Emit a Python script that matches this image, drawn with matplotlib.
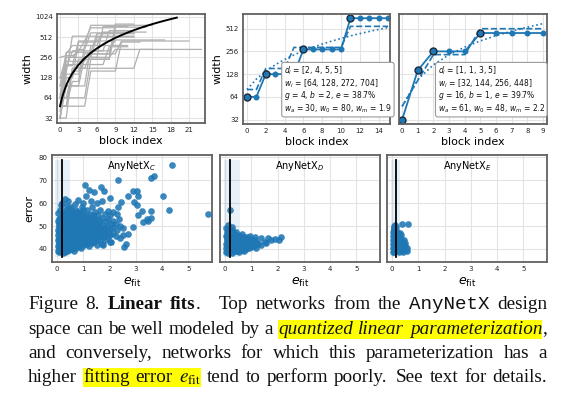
import matplotlib
matplotlib.use('Agg')
import matplotlib.pyplot as plt
import numpy as np
from matplotlib.patches import Rectangle
from matplotlib.ticker import NullLocator

# ---------------- data ----------------
# panel 1: sampled networks (stage depths, stage widths)
net_depths = [[1, 3, 5, 15], [2, 2, 6, 12], [1, 4, 4, 9], [1, 2, 4, 8], [1, 1, 3, 11],
              [2, 5, 6, 3], [1, 2, 5, 4], [1, 3, 3, 5], [2, 2, 3, 6], [1, 1, 4, 7],
              [1, 2, 2, 5], [2, 3, 4, 4], [1, 1, 2, 6], [1, 4, 3, 4], [3, 2, 4, 4],
              [1, 2, 3, 7], [1, 2, 2, 4], [2, 3, 5, 4], [1, 3, 4, 4], [1, 1, 5, 6],
              [2, 3, 4, 6]]
net_widths = [[32, 96, 256, 336], [64, 160, 288, 448], [48, 224, 320, 464], [32, 128, 432, 608],
              [64, 288, 384, 768], [48, 176, 176, 336], [64, 256, 320, 640], [32, 144, 256, 736],
              [48, 112, 384, 592], [128, 256, 256, 512], [96, 192, 448, 704], [64, 64, 240, 640],
              [32, 176, 320, 448], [48, 96, 384, 384], [128, 240, 240, 800], [256, 272, 304, 576],
              [96, 304, 336, 592], [48, 48, 160, 432], [40, 200, 200, 368], [72, 152, 528, 528],
              [32, 176, 288, 720]]
lin_x = [0, 0.25, 0.5, 1, 1.5, 2, 3, 4, 5, 6, 7, 8, 9, 10, 11, 12, 13, 14, 15, 16, 17, 18, 19]
lin_w = [48, 60.5, 73, 98, 123, 148, 198, 248, 298, 348, 398, 448, 498, 548, 598, 648,
         698, 748, 798, 848, 898, 948, 998]

# panel 2 network
p2_depths = [2, 4, 5, 5]
p2_widths = [64, 128, 272, 704]
p2_linear = [80, 110, 140, 170, 200, 230, 260, 290, 320, 350, 380, 410, 440, 470, 500, 530]
p2_quant = [80, 80, 152, 152, 152, 289, 289, 289, 289, 289, 289, 549, 549, 549, 549, 549]
p2_text = ["$d_i$ = [2, 4, 5, 5]", "$w_i$ = [64, 128, 272, 704]",
           "$g$ = 4, $b$ = 2, $e$ = 38.7%", "$w_a$ = 30, $w_0$ = 80, $w_m$ = 1.9"]

# panel 3 network
p3_depths = [1, 1, 3, 5]
p3_widths = [32, 144, 256, 448]
p3_linear = [48, 109, 170, 231, 292, 353, 414, 475, 536, 597]
p3_quant = [48, 105.6, 232, 232, 232, 511, 511, 511, 511, 511]
p3_text = ["$d_i$ = [1, 1, 3, 5]", "$w_i$ = [32, 144, 256, 448]",
           "$g$ = 16, $b$ = 1, $e$ = 39.7%", "$w_a$ = 61, $w_0$ = 48, $w_m$ = 2.2"]

width_ticks = [32, 64, 128, 256, 512, 1024]
p1_xticks = [0, 3, 6, 9, 12, 15, 18, 21]

# bottom panels: (e_fit, error)
c_pts = [(0.02,39.2),(0.03,41.5),(0.01,43.8),(0.04,46.0),(0.02,48.3),(0.05,50.6),(0.03,52.0),
(0.08,38.5),(0.09,40.3),(0.07,42.6),(0.10,44.9),(0.08,47.1),(0.11,49.2),(0.09,51.4),(0.12,53.4),
(0.15,39.0),(0.16,41.2),(0.14,43.1),(0.17,45.3),(0.15,47.6),(0.18,49.8),(0.16,51.7),(0.19,54.2),(0.13,59.0),
(0.22,38.1),(0.23,40.0),(0.21,42.1),(0.24,44.3),(0.22,46.2),(0.25,48.4),(0.23,50.5),(0.26,52.6),(0.24,55.0),(0.21,56.6),
(0.30,38.6),(0.31,40.7),(0.29,42.7),(0.32,44.8),(0.30,46.7),(0.33,48.8),(0.31,50.9),(0.34,53.1),(0.32,55.5),(0.30,61.8),
(0.38,39.1),(0.39,41.0),(0.37,43.3),(0.40,45.1),(0.38,47.2),(0.41,49.4),(0.39,51.3),(0.42,53.6),(0.36,57.4),(0.40,60.8),
(0.46,39.6),(0.47,41.7),(0.45,43.6),(0.48,45.7),(0.46,47.8),(0.49,49.6),(0.47,51.8),(0.50,54.3),(0.45,56.2),
(0.55,40.1),(0.56,42.2),(0.54,44.1),(0.57,46.3),(0.55,48.2),(0.58,50.3),(0.56,52.4),(0.59,55.1),(0.54,58.3),
(0.64,39.3),(0.65,41.3),(0.63,43.4),(0.66,45.2),(0.64,47.4),(0.67,49.3),(0.65,51.2),(0.68,53.3),(0.62,56.1),(0.66,59.4),
(0.73,40.6),(0.74,42.6),(0.72,44.7),(0.75,46.6),(0.73,48.7),(0.76,50.6),(0.74,53.2),(0.71,57.2),
(0.82,41.1),(0.83,43.2),(0.81,45.1),(0.84,47.3),(0.82,49.1),(0.85,51.2),(0.83,54.1),(0.80,61.2),
(0.92,40.2),(0.93,42.1),(0.91,44.2),(0.94,46.1),(0.92,48.2),(0.95,50.1),(0.93,52.3),(0.90,56.2),(0.96,58.1),
(1.02,41.6),(1.03,43.6),(1.01,45.4),(1.04,47.6),(1.02,49.6),(1.05,51.5),(1.03,54.2),(1.00,60.1),(1.05,68.0),
(1.12,42.1),(1.13,44.2),(1.11,46.1),(1.14,48.0),(1.12,50.2),(1.15,53.1),(1.13,57.2),(1.10,63.2),
(1.22,41.2),(1.23,43.1),(1.21,45.6),(1.24,47.2),(1.22,49.6),(1.25,52.1),(1.23,55.2),(1.20,65.8),
(1.32,42.6),(1.33,44.6),(1.31,46.5),(1.34,48.6),(1.32,51.1),(1.35,54.1),(1.33,58.2),(1.30,61.1),
(1.42,43.1),(1.43,45.1),(1.41,47.1),(1.44,50.1),(1.42,52.6),(1.45,56.1),(1.40,65.0),
(1.52,41.6),(1.53,44.1),(1.51,46.1),(1.54,49.1),(1.52,51.1),(1.55,54.6),(1.50,60.1),
(1.62,44.1),(1.63,47.1),(1.61,49.6),(1.64,52.1),(1.62,57.1),
(1.72,42.0),(1.73,45.1),(1.71,48.1),(1.74,50.6),(1.72,53.6),(1.70,61.1),
(1.82,44.1),(1.83,46.6),(1.81,49.1),(1.84,52.1),(1.82,55.1),(1.80,65.5),
(1.92,45.1),(1.93,47.6),(1.91,50.1),(1.94,53.1),(1.92,56.6),
(2.02,43.1),(2.03,46.1),(2.01,48.6),(2.04,51.1),(2.02,54.6),(2.00,62.1),
(2.12,47.1),(2.13,49.6),(2.11,52.1),(2.14,56.1),
(2.25,45.6),(2.26,48.1),(2.24,51.1),(2.27,55.1),
(2.38,44.6),(2.39,50.1),(2.37,53.1),(2.50,46.0),(2.51,49.1),
(4.37,76.7),(3.70,71.7),(3.57,70.9),(2.31,70.0),(5.73,55.1),(4.02,63.3),(4.27,57.2),(3.07,62.9),
(2.88,65.5),(3.03,65.1),(3.57,56.7),(3.57,53.5),(3.45,52.0),(3.26,51.7),(3.42,53.2),(3.23,56.7),
(3.07,54.6),(3.03,59.0),(2.94,60.7),(2.71,63.3),(2.43,60.4),(2.31,58.3),(2.69,46.7),(2.62,42.3),
(2.56,40.9),(2.05,43.0),(1.74,41.9),(2.90,49.5),(1.67,67.0)]
c_pts_dense = [(0.05,40.4),(0.06,42.7),(0.05,44.9),(0.06,47.2),(0.05,49.4),(0.07,51.5),(0.06,53.0),(0.04,55.6),
(0.12,39.4),(0.13,41.6),(0.12,43.9),(0.13,46.1),(0.12,48.3),(0.14,50.5),(0.13,52.5),(0.11,57.0),
(0.19,40.1),(0.20,42.2),(0.19,44.3),(0.20,46.5),(0.19,48.7),(0.21,50.8),(0.20,53.0),(0.18,60.2),
(0.26,39.1),(0.27,41.1),(0.26,43.2),(0.27,45.3),(0.26,47.4),(0.28,49.5),(0.27,51.6),(0.28,54.0),
(0.34,39.8),(0.35,41.8),(0.34,43.9),(0.35,46.0),(0.34,48.0),(0.36,50.1),(0.35,52.2),(0.36,58.6),
(0.42,40.2),(0.43,42.3),(0.42,44.3),(0.43,46.4),(0.42,48.5),(0.44,50.6),(0.43,52.6),(0.44,55.2),
(0.50,40.8),(0.51,42.9),(0.50,44.9),(0.51,47.0),(0.50,49.0),(0.52,51.1),(0.51,53.3),(0.50,57.3),
(0.60,40.6),(0.61,42.6),(0.60,44.6),(0.61,46.7),(0.60,48.8),(0.62,50.9),(0.61,53.9),
(0.69,41.4),(0.70,43.5),(0.69,45.5),(0.70,47.6),(0.69,49.7),(0.71,51.8),(0.70,55.0),
(0.78,41.8),(0.79,43.9),(0.78,46.0),(0.79,48.0),(0.78,50.1),(0.80,52.4),(0.79,56.0),
(0.88,41.2),(0.89,43.1),(0.88,45.2),(0.89,47.2),(0.88,49.3),(0.90,51.3),(0.89,54.3),
(0.98,42.4),(0.99,44.5),(0.98,46.6),(0.99,48.6),(0.98,50.6),(1.00,52.9),(0.99,57.0),
(1.08,43.0),(1.09,45.1),(1.08,47.1),(1.09,49.1),(1.08,51.3),(1.10,55.0),
(1.18,42.6),(1.19,44.6),(1.18,46.6),(1.19,48.6),(1.18,50.9),(1.20,53.6),
(1.28,43.6),(1.29,45.6),(1.28,47.6),(1.29,49.8),(1.28,52.6),
(1.38,44.1),(1.39,46.1),(1.38,48.3),(1.39,51.3),(1.38,54.6),
(1.48,45.1),(1.49,47.6),(1.48,50.0),(1.49,53.0),
(1.58,45.5),(1.59,48.3),(1.58,51.0),(1.68,46.5),(1.69,49.2),(1.78,47.8),(1.88,48.5)]
d_pts = [(0.02,38.6),(0.04,40.2),(0.03,42.0),(0.05,43.8),(0.02,45.5),(0.06,47.2),(0.04,49.0),
(0.10,38.2),(0.12,39.9),(0.09,41.6),(0.13,43.3),(0.11,45.0),(0.14,46.8),(0.10,48.6),(0.12,50.4),
(0.18,38.8),(0.20,40.5),(0.17,42.2),(0.21,43.9),(0.19,45.7),(0.22,47.4),(0.24,49.7),(0.20,57.0),
(0.27,38.4),(0.29,40.1),(0.26,41.8),(0.30,43.5),(0.28,45.2),(0.31,47.0),
(0.36,38.9),(0.38,40.6),(0.35,42.4),(0.39,44.1),(0.37,45.9),(0.40,47.3),
(0.45,39.3),(0.47,41.0),(0.44,42.8),(0.48,44.5),(0.46,46.2),
(0.54,38.7),(0.56,40.4),(0.53,42.1),(0.57,43.8),(0.55,45.6),
(0.63,39.6),(0.65,41.3),(0.62,43.0),(0.66,44.7),(0.64,46.4),
(0.72,39.0),(0.74,40.8),(0.71,42.5),(0.75,44.2),
(0.81,39.8),(0.83,41.6),(0.80,43.3),(0.84,45.0),
(0.90,40.4),(0.92,42.1),(0.89,43.9),(0.93,45.6),
(0.99,40.9),(1.01,42.7),(1.00,44.4),(1.08,41.4),(1.10,43.2),
(1.18,40.6),(1.20,42.4),(1.25,42.0),(1.38,44.6),(1.50,43.2),(1.63,44.6),(1.90,44.4),(2.13,45.1),
(1.35,41.8),(1.55,42.5),(1.75,43.9),(2.05,44.0),(1.12,45.3)]
d_pts_dense = [(0.07,39.3),(0.08,41.1),(0.07,42.9),(0.08,44.6),(0.07,46.3),(0.09,48.0),
(0.15,39.0),(0.16,40.8),(0.15,42.6),(0.16,44.4),(0.15,46.1),(0.17,48.2),
(0.24,39.4),(0.25,41.1),(0.24,42.9),(0.25,44.7),(0.24,46.3),(0.26,48.3),
(0.33,39.5),(0.34,41.3),(0.33,43.1),(0.34,44.8),(0.33,46.5),
(0.42,40.0),(0.43,41.8),(0.42,43.5),(0.43,45.2),
(0.51,39.8),(0.52,41.6),(0.51,43.3),(0.52,45.0),
(0.60,40.3),(0.61,42.1),(0.60,43.8),
(0.69,40.2),(0.70,41.9),(0.69,43.6),(0.70,45.3),
(0.78,40.8),(0.79,42.6),(0.78,44.3),
(0.87,41.3),(0.88,43.0),(0.96,42.0),(0.97,43.7),(1.05,42.3),(1.15,43.9)]
e_pts = [(0.01,38.8),(0.03,40.5),(0.02,42.2),(0.04,43.9),(0.01,45.6),(0.03,47.3),(0.05,49.0),
(0.08,38.5),(0.10,40.2),(0.07,41.9),(0.11,43.6),(0.09,45.3),(0.12,47.0),(0.08,48.7),(0.10,50.4),
(0.16,38.9),(0.18,40.6),(0.15,42.3),(0.19,44.0),(0.17,45.7),(0.20,47.4),(0.16,49.5),
(0.24,38.6),(0.26,40.3),(0.23,42.0),(0.27,43.7),(0.25,45.4),(0.28,47.1),
(0.32,39.1),(0.34,40.8),(0.31,42.5),(0.35,44.2),(0.33,45.9),
(0.40,38.8),(0.42,40.5),(0.39,42.2),(0.43,43.9),
(0.48,39.4),(0.50,41.1),(0.47,42.8),(0.55,39.0),(0.57,40.6),
(0.39,50.9),(0.59,50.8)]
e_pts_dense = [(0.05,39.6),(0.06,41.3),(0.05,43.0),(0.06,44.7),(0.05,46.4),(0.07,48.2),(0.06,49.8),
(0.13,39.4),(0.14,41.1),(0.13,42.8),(0.14,44.6),(0.13,46.3),(0.14,48.0),
(0.21,39.7),(0.22,41.4),(0.21,43.1),(0.22,44.8),(0.21,46.5),
(0.29,39.5),(0.30,41.2),(0.29,42.9),(0.30,44.6),
(0.37,39.9),(0.38,41.6),(0.37,43.3),(0.45,40.1),(0.46,41.8),(0.52,40.0)]
bottom_titles = ["AnyNetX$_C$", "AnyNetX$_D$", "AnyNetX$_E$"]
best_fit = [0.2, 0.17, 0.15]          # vertical line position
shade_lo = [-0.08, -0.05, -0.04]
shade_hi = [0.5, 0.55, 0.3]
vrange = [(36.5, 79.0), (36.7, 78.7), (36.6, 78.8)]
err_ticks = [40, 50, 60, 70, 80]
efit_ticks = [0, 1, 2, 3, 4, 5]

# ---------------- figure ----------------
W, H = 577, 400
fig = plt.figure(figsize=(W / 100, H / 100), dpi=100)
fig.patch.set_facecolor('white')
blue = '#1f77b4'
dark = '#1b2a3b'


def ax_px(x0, y0, x1, y1):
    return fig.add_axes([x0 / W, 1 - y1 / H, (x1 - x0) / W, (y1 - y0) / H])


def style(ax):
    for s in ax.spines.values():
        s.set_color('#616161')
        s.set_linewidth(1.3)
    ax.grid(True, color='#e3e3e3', lw=0.8)
    ax.set_axisbelow(True)
    ax.tick_params(length=0, labelsize=5, pad=3, colors='#222222')


# panel 1
ax1 = ax_px(57, 14, 205, 123)
style(ax1)
for d, w in zip(net_depths, net_widths):
    ww = np.repeat(w, d)
    ax1.plot(np.arange(len(ww)), ww, color='#b0b0b0', lw=0.9)
ax1.plot(lin_x, lin_w, color='black', lw=1.4)
ax1.set_yscale('log', base=2)
ax1.set_yticks(width_ticks)
ax1.set_yticklabels([str(t) for t in width_ticks])
ax1.yaxis.set_minor_locator(NullLocator())
ax1.set_xticks(p1_xticks)
ax1.set_xlim(-0.5, 23.6)
ax1.set_ylim(27, 1130)
ax1.set_xlabel('block index', fontsize=8, labelpad=2)
ax1.set_ylabel('width', fontsize=8, labelpad=2)


def net_panel(ax, depths, widths, lin, quant, txt, xlim, box_x):
    ww = np.repeat(widths, depths)
    x = np.arange(len(ww))
    ax.plot(x, lin, ':', color=blue, lw=1.2)
    ax.plot(x, quant, '--', color=blue, lw=1.2)
    ax.plot(x, ww, '-o', color=blue, lw=1.3, ms=3.3)
    starts = np.concatenate([[0], np.cumsum(depths)[:-1]])
    ax.plot(starts, np.array(widths), 'o', ms=5, mfc=blue, mec=dark, mew=1.0)
    ax.set_yscale('log', base=2)
    ax.set_yticks(width_ticks[:-1])
    ax.yaxis.set_minor_locator(NullLocator())
    ax.set_xlim(*xlim)
    ax.set_ylim(28, 800)
    ax.set_xlabel('block index', fontsize=8, labelpad=2)
    ax.text(box_x, 0.085, "\n".join(txt), transform=ax.transAxes, fontsize=5.5,
            ha='left', va='bottom', linespacing=0.98, color='#111111',
            bbox=dict(boxstyle='round,pad=0.3', fc='white', ec='#9a9a9a', lw=0.8))


ax2 = ax_px(243, 14, 390, 124)
style(ax2)
net_panel(ax2, p2_depths, p2_widths, p2_linear, p2_quant, p2_text, (-0.42, 15.2), 0.279)
ax2.set_xticks([0, 2, 4, 6, 8, 10, 12, 14])
ax2.set_yticklabels([str(t) for t in width_ticks[:-1]])
ax2.set_ylabel('width', fontsize=8, labelpad=2)

ax3 = ax_px(399, 14, 547, 124)
style(ax3)
net_panel(ax3, p3_depths, p3_widths, p3_linear, p3_quant, p3_text, (-0.2, 9.25), 0.262)
ax3.set_xticks(list(range(10)))
ax3.set_yticklabels([])

# bottom panels
pts_all = [c_pts + c_pts_dense, d_pts + d_pts_dense, e_pts + e_pts_dense]
bx = [(52, 212), (220, 380), (387, 547)]
for i in range(3):
    ax = ax_px(bx[i][0], 155, bx[i][1], 262)
    style(ax)
    p = np.array(pts_all[i])
    lo, hi = vrange[i]
    ax.fill_between([shade_lo[i], shade_hi[i]], lo, hi, color=blue, alpha=0.1, lw=0)
    ax.scatter(p[:, 0], p[:, 1], s=23, color=blue, alpha=0.88, linewidths=0, zorder=3)
    ax.plot([best_fit[i], best_fit[i]], [lo, hi], color='black', lw=1.3, zorder=4)
    ax.set_xlim(-0.2, 5.9)
    ax.set_ylim(34.3, 81)
    ax.set_xticks(efit_ticks)
    ax.set_yticks(err_ticks)
    if i == 0:
        ax.set_ylabel('error', fontsize=8, labelpad=3)
    else:
        ax.set_yticklabels([])
    ax.set_xlabel(r'$e_{\mathrm{fit}}$', fontsize=9, labelpad=3)
    ax.text(0.5, 0.965, bottom_titles[i], transform=ax.transAxes, fontsize=7,
            ha='center', va='top')

# ---------------- caption (justified) ----------------
cap_lines = [
    [[("Figure", "rm", 0)], [("8.", "rm", 0)], [("Linear", "bf", 0)], [("fits", "bf", 0), (".", "rm", 0)],
     [("Top", "rm", 0)], [("networks", "rm", 0)], [("from", "rm", 0)], [("the", "rm", 0)],
     [("AnyNetX", "tt", 0)], [("design", "rm", 0)]],
    [[("space", "rm", 0)], [("can", "rm", 0)], [("be", "rm", 0)], [("well", "rm", 0)], [("modeled", "rm", 0)],
     [("by", "rm", 0)], [("a", "rm", 0)], [("quantized", "it", 1)], [("linear", "it", 1)],
     [("parameterization", "it", 1), (",", "rm", 0)]],
    [[("and", "rm", 0)], [("conversely,", "rm", 0)], [("networks", "rm", 0)], [("for", "rm", 0)],
     [("which", "rm", 0)], [("this", "rm", 0)], [("parameterization", "rm", 0)], [("has", "rm", 0)],
     [("a", "rm", 0)]],
    [[("higher", "rm", 0)], [("fitting", "rm", 1)], [("error", "rm", 1)], [(r"$e_{\mathrm{fit}}$", "rm", 1)],
     [("tend", "rm", 0)], [("to", "rm", 0)], [("perform", "rm", 0)], [("poorly.", "rm", 0)],
     [("See", "rm", 0)], [("text", "rm", 0)], [("for", "rm", 0)], [("details.", "rm", 0)]],
]
gap_weight = {(0, 4): 2.4, (3, 8): 1.4}
cap_left, cap_right = 28, 547
baselines = [309, 333.5, 358, 382]
fs0 = 13.8
min_gap = 4.2
styles = {
    'rm': dict(family='Liberation Serif'),
    'bf': dict(family='Liberation Serif', weight='bold'),
    'it': dict(family='Liberation Serif', style='italic'),
    'tt': dict(family='Liberation Mono'),
}

fig.canvas.draw()
rend = fig.canvas.get_renderer()


def make(s, st, fs, x=0, y=0):
    return fig.text(x, y, s, fontsize=fs, math_fontfamily='stix', va='baseline', ha='left',
                    color='#111111', zorder=5, **styles[st])


def measure(words, fs):
    widths = []
    for word in words:
        ws = []
        for s, st, hl in word:
            t = make(s, st, fs)
            ws.append(t.get_window_extent(rend).width)
            t.remove()
        widths.append(ws)
    return widths


for li, words in enumerate(cap_lines):
    fs = fs0
    widths = measure(words, fs)
    total = sum(sum(w) for w in widths)
    weights = [gap_weight.get((li, k), 1.0) for k in range(1, len(words))]
    avail = cap_right - cap_left
    if (avail - total) / sum(weights) < min_gap:
        fs = fs * (avail - min_gap * sum(weights)) / total
        widths = measure(words, fs)
        total = sum(sum(w) for w in widths)
    gap = (avail - total) / sum(weights)
    x = cap_left
    base = baselines[li]
    hl_spans = []
    for k, word in enumerate(words):
        if k > 0:
            x += gap * weights[k - 1]
        for (s, st, hl), w in zip(word, widths[k]):
            make(s, st, fs, x / W, 1 - base / H)
            if hl:
                if hl_spans and hl_spans[-1][2] == k - 1:
                    hl_spans[-1][1] = x + w
                    hl_spans[-1][2] = k
                else:
                    hl_spans.append([x, x + w, k])
            x += w
    for x0, x1, _ in hl_spans:
        top, bot = base - 14, base + 5
        fig.add_artist(Rectangle((x0 / W, 1 - bot / H), (x1 - x0) / W, (bot - top) / H,
                                 transform=fig.transFigure, facecolor='#ffff00',
                                 edgecolor='none', zorder=1))

fig.savefig('out.png', dpi=100, facecolor='white')
